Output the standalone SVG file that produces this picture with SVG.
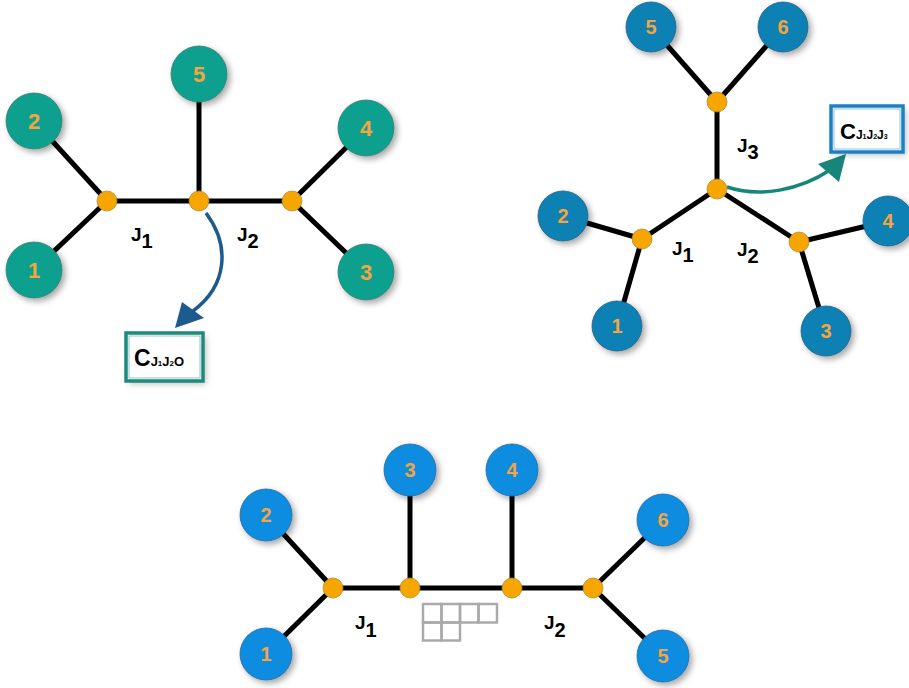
<svg xmlns="http://www.w3.org/2000/svg" width="909" height="688" viewBox="0 0 909 688">
<defs>
<filter id="sh" x="-30%" y="-30%" width="170%" height="170%">
<feDropShadow dx="3" dy="3" stdDeviation="3" flood-color="#000" flood-opacity="0.35"/>
</filter>
<filter id="sh2" x="-20%" y="-20%" width="150%" height="160%">
<feDropShadow dx="3" dy="3" stdDeviation="3" flood-color="#000" flood-opacity="0.25"/>
</filter>
<style>
.e{stroke:#000;stroke-width:5;fill:none}
.t{fill:#10a08f;stroke:#3a7a70;stroke-width:0.8;filter:url(#sh)}
.b{fill:#0a80b4;stroke:#2a5f80;stroke-width:0.8;filter:url(#sh)}
.c{fill:#0b8ce0;stroke:#2a6aa0;stroke-width:0.8;filter:url(#sh)}
.j{fill:#f7a600;stroke:#b08a40;stroke-width:0.8}
.n{font-family:"Liberation Sans",Arial,sans-serif;font-weight:bold;fill:#f5a540;text-anchor:middle}
.l{font-family:"Liberation Sans",Arial,sans-serif;font-weight:bold;fill:#000;font-size:19px}
.s{font-size:20px}
.yd{fill:none;stroke:#aaa;stroke-width:2.5}
.bx{font-family:"Liberation Sans",Arial,sans-serif;font-weight:bold;fill:#000}
</style>
</defs>
<rect width="909" height="688" fill="#fff"/>

<g id="connectors">
<line class="e" x1="107" y1="201" x2="34" y2="121"/>
<line class="e" x1="107" y1="201" x2="34" y2="270"/>
<line class="e" x1="107" y1="201" x2="292" y2="201"/>
<line class="e" x1="199" y1="201" x2="199" y2="74"/>
<line class="e" x1="292" y1="201" x2="366" y2="128"/>
<line class="e" x1="292" y1="201" x2="366" y2="272"/>
<line class="e" x1="717" y1="102" x2="651" y2="27"/>
<line class="e" x1="717" y1="102" x2="783" y2="27"/>
<line class="e" x1="717" y1="102" x2="717" y2="189"/>
<line class="e" x1="717" y1="189" x2="642" y2="239"/>
<line class="e" x1="717" y1="189" x2="799" y2="242"/>
<line class="e" x1="642" y1="239" x2="563" y2="216"/>
<line class="e" x1="642" y1="239" x2="617" y2="326"/>
<line class="e" x1="799" y1="242" x2="888" y2="221"/>
<line class="e" x1="799" y1="242" x2="826" y2="331"/>
<line class="e" x1="333" y1="588" x2="266" y2="515"/>
<line class="e" x1="333" y1="588" x2="266" y2="654"/>
<line class="e" x1="333" y1="588" x2="593" y2="588"/>
<line class="e" x1="410" y1="588" x2="410" y2="470"/>
<line class="e" x1="512" y1="588" x2="512" y2="470"/>
<line class="e" x1="593" y1="588" x2="663" y2="520"/>
<line class="e" x1="593" y1="588" x2="663" y2="656"/>
<path d="M206,213 C230,245 228,285 193,311" fill="none" stroke="#1d5a8e" stroke-width="3.5"/>
<polygon points="175,328 182,302 204,318" fill="#1d5a8e"/>
<path d="M727,187 C760,198 800,190 830,170" fill="none" stroke="#17867a" stroke-width="3.5"/>
<polygon points="846,154 818,164 839,182" fill="#17867a"/>
</g>

<g id="tl-n1"><circle class="t" cx="34" cy="270" r="28"/><text class="n" x="34" y="278" font-size="22">1</text></g>
<g id="tl-n2"><circle class="t" cx="34" cy="121" r="28"/><text class="n" x="34" y="129" font-size="22">2</text></g>
<g id="tl-n3"><circle class="t" cx="366" cy="272" r="28"/><text class="n" x="366" y="280" font-size="22">3</text></g>
<g id="tl-n4"><circle class="t" cx="366" cy="128" r="28"/><text class="n" x="366" y="136" font-size="22">4</text></g>
<g id="tl-n5"><circle class="t" cx="199" cy="74" r="28"/><text class="n" x="199" y="82" font-size="22">5</text></g>
<g id="tl-j1"><circle class="j" cx="107" cy="201" r="10"/></g>
<g id="tl-jm"><circle class="j" cx="199" cy="201" r="10"/></g>
<g id="tl-j2"><circle class="j" cx="292" cy="201" r="10"/></g>
<g id="tl-labels">
<text class="l" x="131" y="241">J<tspan class="s" dy="7">1</tspan></text>
<text class="l" x="237" y="241">J<tspan class="s" dy="7">2</tspan></text>
</g>
<g id="tl-box">
<rect x="126" y="333" width="77" height="48" fill="#fff" filter="url(#sh2)"/>
<rect x="126" y="333" width="77" height="48" fill="none" stroke="#1e8a7e" stroke-width="3.5"/>
<rect x="129" y="336" width="71" height="42" fill="none" stroke="#1e8a7e" stroke-width="0.8" opacity="0.6"/>
<text class="bx" x="134" y="366" font-size="23">C<tspan font-size="13">J</tspan><tspan font-size="8">1</tspan><tspan font-size="13">J</tspan><tspan font-size="8">2</tspan><tspan font-size="13">O</tspan></text>
</g>

<g id="tr-n1"><circle class="b" cx="617" cy="326" r="25"/><text class="n" x="617" y="333" font-size="20">1</text></g>
<g id="tr-n2"><circle class="b" cx="563" cy="216" r="25"/><text class="n" x="563" y="223" font-size="20">2</text></g>
<g id="tr-n3"><circle class="b" cx="826" cy="331" r="25"/><text class="n" x="826" y="338" font-size="20">3</text></g>
<g id="tr-n4"><circle class="b" cx="888" cy="221" r="25"/><text class="n" x="888" y="228" font-size="20">4</text></g>
<g id="tr-n5"><circle class="b" cx="651" cy="27" r="25"/><text class="n" x="651" y="34" font-size="20">5</text></g>
<g id="tr-n6"><circle class="b" cx="783" cy="27" r="25"/><text class="n" x="783" y="34" font-size="20">6</text></g>
<g id="tr-j3"><circle class="j" cx="717" cy="102" r="10"/></g>
<g id="tr-jm"><circle class="j" cx="717" cy="189" r="10"/></g>
<g id="tr-j1"><circle class="j" cx="642" cy="239" r="10"/></g>
<g id="tr-j2"><circle class="j" cx="799" cy="242" r="10"/></g>
<g id="tr-labels">
<text class="l" x="737" y="152">J<tspan class="s" dy="7">3</tspan></text>
<text class="l" x="672" y="255">J<tspan class="s" dy="7">1</tspan></text>
<text class="l" x="737" y="256">J<tspan class="s" dy="7">2</tspan></text>
</g>
<g id="tr-box">
<rect x="831" y="106" width="72" height="46" fill="#fff" filter="url(#sh2)"/>
<rect x="831" y="106" width="72" height="46" fill="none" stroke="#1b80c4" stroke-width="3.5"/>
<rect x="834" y="109" width="66" height="40" fill="none" stroke="#1b80c4" stroke-width="0.8" opacity="0.6"/>
<text class="bx" x="840" y="139" font-size="22">C<tspan font-size="12">J</tspan><tspan font-size="7">1</tspan><tspan font-size="12">J</tspan><tspan font-size="7">2</tspan><tspan font-size="12">J</tspan><tspan font-size="7">3</tspan></text>
</g>

<g id="b-n1"><circle class="c" cx="266" cy="654" r="26"/><text class="n" x="266" y="661" font-size="20">1</text></g>
<g id="b-n2"><circle class="c" cx="266" cy="515" r="26"/><text class="n" x="266" y="522" font-size="20">2</text></g>
<g id="b-n3"><circle class="c" cx="410" cy="470" r="26"/><text class="n" x="410" y="477" font-size="20">3</text></g>
<g id="b-n4"><circle class="c" cx="512" cy="470" r="26"/><text class="n" x="512" y="477" font-size="20">4</text></g>
<g id="b-n5"><circle class="c" cx="663" cy="656" r="26"/><text class="n" x="663" y="663" font-size="20">5</text></g>
<g id="b-n6"><circle class="c" cx="663" cy="520" r="26"/><text class="n" x="663" y="527" font-size="20">6</text></g>
<g id="b-j1"><circle class="j" cx="333" cy="588" r="10"/></g>
<g id="b-ja"><circle class="j" cx="410" cy="588" r="10"/></g>
<g id="b-jb"><circle class="j" cx="512" cy="588" r="10"/></g>
<g id="b-j2"><circle class="j" cx="593" cy="588" r="10"/></g>
<g id="b-labels">
<text class="l" x="355" y="629">J<tspan class="s" dy="8">1</tspan></text>
<text class="l" x="544" y="629">J<tspan class="s" dy="8">2</tspan></text>
</g>
<g id="young">
<rect class="yd" x="423" y="604" width="18.5" height="18.5"/>
<rect class="yd" x="441.5" y="604" width="18.5" height="18.5"/>
<rect class="yd" x="460" y="604" width="18.5" height="18.5"/>
<rect class="yd" x="478.5" y="604" width="18.5" height="18.5"/>
<rect class="yd" x="423" y="622.5" width="18.5" height="18"/>
<rect class="yd" x="441.5" y="622.5" width="18.5" height="18"/>
</g>
</svg>
